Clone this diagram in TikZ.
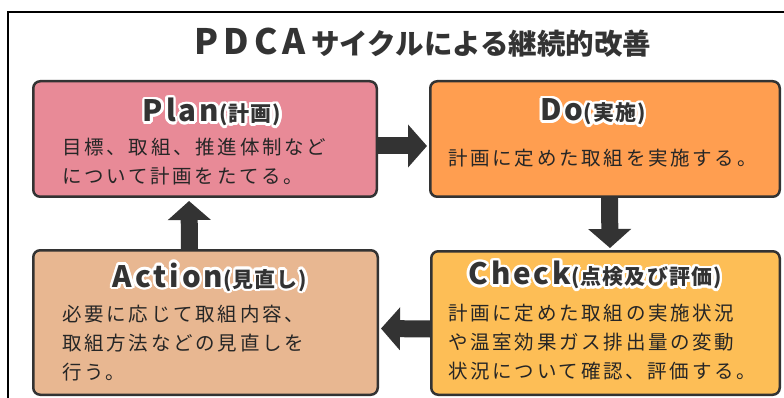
\documentclass[tikz,border=0pt]{standalone}
\usepackage{fontspec}
\usetikzlibrary{arrows.meta}
\newfontfamily\jp{Noto Sans CJK JP}
\definecolor{pinkc}{HTML}{E88A97}
\definecolor{orangec}{HTML}{FF9E50}
\definecolor{tanc}{HTML}{E8B791}
\definecolor{yellowc}{HTML}{FDBE56}
\definecolor{dk}{HTML}{333333}
\definecolor{txt}{HTML}{262626}
\newcommand\hl[1]{\leavevmode\rlap{\color{white}\foreach \dx/\dy in {2.6/0,2.4/1,1.84/1.84,1/2.4,0/2.6,-1/2.4,-1.84/1.84,-2.4/1,-2.6/0,-2.4/-1,-1.84/-1.84,-1/-2.4,0/-2.6,1/-2.4,1.84/-1.84,2.4/-1}{\rlap{\kern\dx pt\raisebox{\dy pt}{#1}}}}#1}
\newcommand\hdtext[2]{\hl{{\fontsize{29.5}{29.5}\selectfont\addfontfeature{LetterSpace=10}#1}{\fontsize{21}{21}\selectfont\addfontfeature{LetterSpace=5}(#2)}}}
\tikzset{
  card/.style={draw=dk, line width=2.5pt, rounded corners=7pt, inner sep=0pt, anchor=north west},
  arr/.style={draw=dk, line width=17pt, -{Triangle[width=42pt,length=19pt]}},
  hd/.style={text=dk, inner sep=0pt, font=\jp\bfseries},
  body/.style={text=txt, inner sep=0pt, align=left, anchor=west, font=\jp\fontsize{19.5}{29}\selectfont\addfontfeature{LetterSpace=14}},
}
\begin{document}
\begin{tikzpicture}[x=1pt,y=-1pt]
\useasboundingbox (0,0) rectangle (784,398);
\clip (0,0) rectangle (784,398);
\fill[white] (0,0) rectangle (784,398);
\draw[line width=2pt] (8,420) -- (8,12) -- (820,12);
\node[card, fill=pinkc, minimum width=343.5pt, minimum height=115.5pt] (plan) at (32,80) {};
\node[card, fill=orangec, minimum width=349.5pt, minimum height=115.5pt] (do) at (429,80) {};
\node[card, fill=tanc, minimum width=344.5pt, minimum height=144.5pt] (act) at (32,249) {};
\node[card, fill=yellowc, minimum width=348.5pt, minimum height=143.5pt] (check) at (430,250) {};
\draw[arr, shorten >=2pt] ([yshift=-7pt]plan.east) -- ([yshift=-7pt]do.west);
\draw[arr, shorten >=2pt] ([xshift=4.5pt]do.south) -- ([xshift=4.5pt]check.north);
\draw[arr, shorten >=2pt] ([yshift=-6pt]check.west) -- ([yshift=-6pt]act.east);
\draw[arr, shorten >=3pt] ([xshift=-16pt]act.north) -- ([xshift=-16pt]plan.south);
\node[hd] (title) at (423,43) {{\fontsize{35}{35}\selectfont\addfontfeature{LetterSpace=14}PDCA}\hspace{6pt}{\fontsize{28.5}{28.5}\selectfont サイクルによる継続的改善}};
\node[hd] (planhd) at (212,112) {\hdtext{Plan}{計画}};
\node[hd] (dohd) at (593,112) {\hdtext{Do}{実施}};
\node[hd] (acthd) at (210,277) {\hdtext{Action}{見直し}};
\node[hd] (checkhd) at (595,275) {\hdtext{Check}{点検及び評価}};
\node[body] (plantx) at (62,161.5) {目標、取組、推進体制など\\について計画をたてる。};
\node[body] (dotx) at (448,158) {計画に定めた取組を実施する。};
\node[body] (acttx) at (62,343.5) {必要に応じて取組内容、\\取組方法などの見直しを\\行う。};
\node[body] (checktx) at (448,342) {計画に定めた取組の実施状況\\や温室効果ガス排出量の変動\\状況について確認、評価する。};
\end{tikzpicture}
\end{document}
